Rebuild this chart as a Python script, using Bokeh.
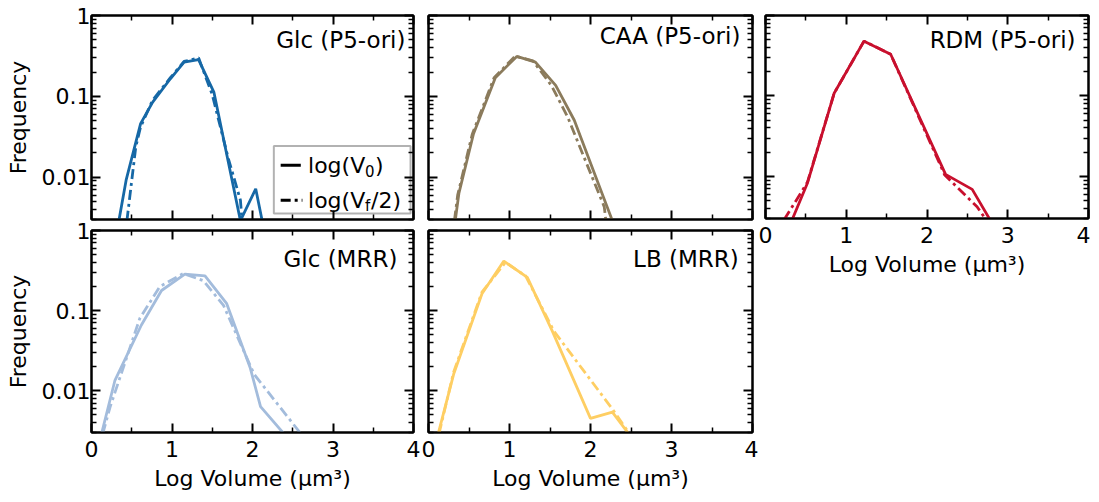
from bokeh.plotting import figure
from bokeh.models import (Range1d, LinearAxis, LogAxis, FixedTicker, Label,
                          BoxAnnotation, CustomJSTickFormatter)
from bokeh.layouts import row, column
from bokeh.embed import file_html
from bokeh.resources import INLINE

FONT = "DejaVu Sans"

# ---- axis ticks ----
x_major = [0, 1, 2, 3, 4]
x_minor = [0.5, 1.5, 2.5, 3.5]
y_major = [0.01, 0.1, 1]
y_minor = [0.003, 0.004, 0.005, 0.006, 0.007, 0.008, 0.009,
           0.02, 0.03, 0.04, 0.05, 0.06, 0.07, 0.08, 0.09,
           0.2, 0.3, 0.4, 0.5, 0.6, 0.7, 0.8, 0.9]

# ---- data: Glc (P5-ori) ----
glc_p5_x0 = [0.34, 0.43, 0.61, 0.76, 0.98, 1.15, 1.33, 1.52, 1.85, 2.04, 2.12]
glc_p5_y0 = [0.0029, 0.0092, 0.046, 0.085, 0.165, 0.265, 0.285, 0.113, 0.0029, 0.0072, 0.0029]
glc_p5_xf = [0.44, 0.55, 0.61, 0.76, 0.98, 1.15, 1.33, 1.50, 1.70, 1.85, 1.87]
glc_p5_yf = [0.0029, 0.0237, 0.042, 0.09, 0.17, 0.27, 0.30, 0.105, 0.017, 0.0052, 0.0029]

# ---- data: CAA (P5-ori) ----
caa_x0 = [0.33, 0.375, 0.556, 0.825, 1.09, 1.32, 1.57, 1.80, 2.27]
caa_y0 = [0.0029, 0.0063, 0.0345, 0.17, 0.312, 0.265, 0.137, 0.0506, 0.0029]
caa_xf = [0.32, 0.36, 0.54, 0.81, 1.07, 1.29, 1.52, 1.72, 2.17, 2.19]
caa_yf = [0.0029, 0.0060, 0.034, 0.17, 0.315, 0.275, 0.135, 0.055, 0.0043, 0.0029]

# ---- data: RDM (P5-ori) ----
rdm_x0 = [0.33, 0.52, 0.85, 1.22, 1.55, 2.23, 2.56, 2.78]
rdm_y0 = [0.0029, 0.0083, 0.108, 0.48, 0.33, 0.0106, 0.0069, 0.0029]
rdm_xf = [0.23, 0.35, 0.52, 0.85, 1.22, 1.55, 2.22, 2.62, 2.73]
rdm_yf = [0.0029, 0.0045, 0.0085, 0.108, 0.48, 0.33, 0.0104, 0.0042, 0.0029]

# ---- data: Glc (MRR) ----
glc_mrr_x0 = [0.125, 0.29, 0.62, 0.87, 1.16, 1.41, 1.68, 1.97, 2.10, 2.39]
glc_mrr_y0 = [0.0029, 0.0133, 0.066, 0.178, 0.285, 0.272, 0.122, 0.0195, 0.0063, 0.0029]
glc_mrr_xf = [0.14, 0.23, 0.60, 0.85, 1.14, 1.39, 1.64, 2.02, 2.60]
glc_mrr_yf = [0.0029, 0.0062, 0.080, 0.20, 0.29, 0.236, 0.116, 0.016, 0.0029]

# ---- data: LB (MRR) ----
lb_x0 = [0.12, 0.31, 0.66, 0.93, 1.22, 1.53, 2.00, 2.27, 2.47]
lb_y0 = [0.0029, 0.016, 0.162, 0.415, 0.26, 0.055, 0.0045, 0.0054, 0.0029]
lb_xf = [0.13, 0.31, 0.66, 0.95, 1.20, 1.55, 2.27, 2.48]
lb_yf = [0.0029, 0.017, 0.17, 0.40, 0.27, 0.055, 0.0059, 0.0029]

titles = ["Glc (P5-ori)", "CAA (P5-ori)", "RDM (P5-ori)", "Glc (MRR)", "LB (MRR)"]
colors = ["#1668a6", "#8b7b5c", "#c8102e", "#a3bcdc", "#fece63"]

XLABEL = "Log Volume (\u03bcm\u00b3)"
YLABEL = "Frequency"
DASH = "10 4 3 4"


def style_axis(ax, show_labels, label=None):
    ax.axis_line_width = 2
    ax.axis_line_color = "black"
    ax.major_tick_in = 9
    ax.major_tick_out = 0
    ax.minor_tick_in = 5
    ax.minor_tick_out = 0
    ax.major_tick_line_width = 2
    ax.minor_tick_line_width = 1.5
    ax.major_tick_line_color = "black"
    ax.minor_tick_line_color = "black"
    if show_labels:
        ax.major_label_text_font = FONT
        ax.major_label_text_font_size = "22px"
        ax.major_label_text_color = "black"
    else:
        ax.formatter = CustomJSTickFormatter(code="return ''")
        ax.major_label_text_font_size = "1px"
        ax.major_label_standoff = 0
    if label:
        ax.axis_label = label
        ax.axis_label_text_font = FONT
        ax.axis_label_text_font_size = "22px"
        ax.axis_label_text_font_style = "normal"
        ax.axis_label_text_color = "black"


def panel(width, height, bl, br, bt, bb, show_x, show_y):
    p = figure(width=width, height=height, x_range=Range1d(0, 4),
               y_range=Range1d(0.003, 1), y_axis_type="log",
               output_backend="svg", toolbar_location=None,
               min_border_left=bl, min_border_right=br,
               min_border_top=bt, min_border_bottom=bb)
    p.add_layout(LinearAxis(), "above")
    p.add_layout(LogAxis(), "right")
    p.xgrid.visible = False
    p.ygrid.visible = False
    p.outline_line_color = "black"
    p.outline_line_width = 2
    p.background_fill_color = "white"
    p.border_fill_color = "white"
    for ax in p.below + p.above:
        ax.ticker = FixedTicker(ticks=x_major, minor_ticks=x_minor)
    for ax in p.left + p.right:
        ax.ticker = FixedTicker(ticks=y_major, minor_ticks=y_minor)
    for ax in p.below:
        style_axis(ax, show_x, XLABEL if show_x else None)
        if show_x:
            ax.major_label_standoff = 8
            ax.axis_label_standoff = 6
    for ax in p.left:
        style_axis(ax, show_y, YLABEL if show_y else None)
        if show_y:
            ax.formatter = CustomJSTickFormatter(code="return tick.toString()")
            ax.major_label_standoff = 1
            ax.axis_label_standoff = 8
    for ax in p.above + p.right:
        style_axis(ax, False)
    return p


def add_series(p, x0, y0, xf, yf, color):
    p.line(x0, y0, line_color=color, line_width=2.8)
    p.line(xf, yf, line_color=color, line_width=2.8, line_dash=DASH)


def add_title(p, text, x, y):
    p.add_layout(Label(x=x, y=y, text=text, text_align="right",
                       text_baseline="middle", text_font=FONT,
                       text_font_size="23px", text_color="black"))


p1 = panel(412 + 8, 221, 91, 7, 15, 2, False, True)
p2 = panel(338, 221, 8, 6, 15, 2, False, False)
p3 = panel(332, 286, 7, 2, 15, 68, True, False)
p4 = panel(412 + 8, 275, 91, 7, 9, 64, True, True)
p5 = panel(338, 275, 8, 6, 9, 64, True, False)

add_series(p1, glc_p5_x0, glc_p5_y0, glc_p5_xf, glc_p5_yf, colors[0])
add_series(p2, caa_x0, caa_y0, caa_xf, caa_yf, colors[1])
add_series(p3, rdm_x0, rdm_y0, rdm_xf, rdm_yf, colors[2])
add_series(p4, glc_mrr_x0, glc_mrr_y0, glc_mrr_xf, glc_mrr_yf, colors[3])
add_series(p5, lb_x0, lb_y0, lb_xf, lb_yf, colors[4])

add_title(p1, titles[0], 3.90, 0.50)
add_title(p2, titles[1], 3.85, 0.55)
add_title(p3, titles[2], 3.84, 0.50)
add_title(p4, titles[3], 3.80, 0.443)
add_title(p5, titles[4], 3.83, 0.443)

# ---- legend in first panel ----
p1.add_layout(BoxAnnotation(left=2.265, right=3.963, bottom=0.00356, top=0.0243,
                            fill_color="white", fill_alpha=1.0,
                            line_color="black", line_width=2, level="underlay"))
leg_y = [0.01406, 0.0052]
p1.line([2.35, 2.60], [leg_y[0], leg_y[0]], line_color="black", line_width=3)
p1.line([2.35, 2.62], [leg_y[1], leg_y[1]], line_color="black", line_width=3, line_dash=DASH)


def lab(p, x, y, text, size, xo=0, yo=0):
    p.add_layout(Label(x=x, y=y, x_offset=xo, y_offset=yo, text=text,
                       text_align="left", text_baseline="middle",
                       text_font=FONT, text_font_size=size, text_color="black"))


lab(p1, 2.69, leg_y[0], "log(V", "22px")
lab(p1, 2.69, leg_y[0], "0", "15px", 57, -6)
lab(p1, 2.69, leg_y[0], ")", "22px", 67)
lab(p1, 2.69, leg_y[1], "log(V", "22px")
lab(p1, 2.69, leg_y[1], "f", "15px", 57, -6)
lab(p1, 2.69, leg_y[1], "/2)", "22px", 63)

layout = row(column(p1, p4), column(p2, p5), p3)

with open("out.html", "w") as f:
    f.write(file_html(layout, INLINE))
